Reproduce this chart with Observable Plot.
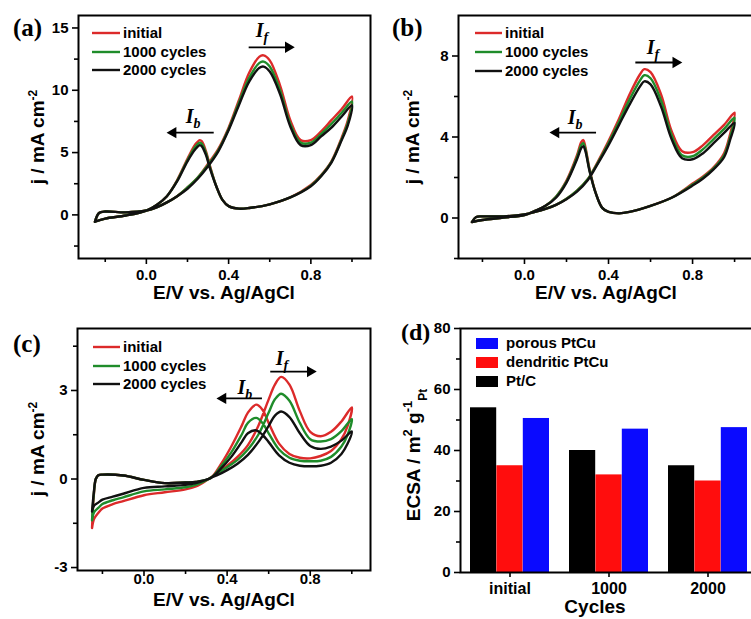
<!DOCTYPE html>
<html><head><meta charset="utf-8">
<script src="https://cdn.jsdelivr.net/npm/d3@7"></script>
<script src="https://cdn.jsdelivr.net/npm/@observablehq/plot@0.6"></script>
<style>
html,body{margin:0;padding:0;background:#fff;overflow:hidden;}
#fig{position:relative;width:751px;height:619px;overflow:hidden;background:#fff;}
#fig svg{position:absolute;overflow:visible;}
</style></head><body><div id="fig"></div>
<script>
// ---------------- DATA ----------------
const seriesNames = ["initial", "1000 cycles", "2000 cycles"];
const seriesColors = ["#dc2a2a", "#1f8c2a", "#111111"];

// Panel (a)
const aFwdE = [-0.25,-0.23,-0.2,-0.1,0,0.05,0.1,0.15,0.2,0.25,0.3,0.35,0.4,0.45,0.5,0.55,0.57,0.6,0.65,0.7,0.75,0.8,0.85,0.9,0.95,1.0];
const aFwdInitial = [-0.55,0.15,0.27,0.2,0.35,0.6,1.0,1.5,2.2,3.0,4.1,5.3,7.0,9.2,11.4,12.7,12.8,12.4,10.4,7.6,6.0,6.0,6.7,7.6,8.5,9.5];
const aFwd1000 = [-0.55,0.15,0.27,0.2,0.35,0.6,1.0,1.5,2.2,3.0,4.0,5.2,6.9,9.0,11.0,12.2,12.3,11.9,10.0,7.3,5.8,5.8,6.5,7.3,8.2,9.1];
const aFwd2000 = [-0.55,0.15,0.27,0.2,0.35,0.6,1.0,1.5,2.1,2.9,3.9,5.1,6.8,8.8,10.7,11.8,11.9,11.5,9.7,7.1,5.6,5.6,6.3,7.0,7.9,8.8];
const aBwdE = [0.98,0.95,0.9,0.85,0.8,0.7,0.6,0.5,0.45,0.4,0.37,0.34,0.31,0.29,0.27,0.26,0.24,0.2,0.15,0.1,0.05,0,-0.1,-0.2,-0.25];
const aBwdInitial = [7.6,6.2,4.3,3.2,2.4,1.4,0.85,0.55,0.5,0.7,1.2,2.3,3.9,5.1,5.9,6.0,5.7,4.5,2.8,1.5,0.8,0.35,-0.05,-0.3,-0.55];
const aBwd1000 = [7.4,6.1,4.25,3.15,2.35,1.4,0.85,0.55,0.5,0.7,1.2,2.3,3.8,4.95,5.7,5.8,5.5,4.4,2.75,1.5,0.8,0.35,-0.05,-0.3,-0.55];
const aBwd2000 = [7.2,6.0,4.2,3.1,2.3,1.4,0.85,0.55,0.5,0.7,1.2,2.3,3.7,4.8,5.5,5.6,5.3,4.3,2.7,1.5,0.8,0.35,-0.05,-0.3,-0.55];

// Panel (b)
const bFwdE = [-0.25,-0.23,-0.2,-0.1,0,0.05,0.1,0.15,0.2,0.25,0.3,0.35,0.4,0.45,0.5,0.55,0.57,0.6,0.65,0.7,0.75,0.8,0.85,0.9,0.95,1.0];
const bFwdInitial = [-0.2,0.05,0.08,0.08,0.18,0.3,0.45,0.65,0.95,1.35,1.9,2.8,3.8,4.9,6.1,7.1,7.35,7.2,6.1,4.3,3.3,3.25,3.6,4.1,4.6,5.2];
const bFwd1000 = [-0.2,0.05,0.08,0.08,0.18,0.3,0.45,0.65,0.95,1.35,1.9,2.75,3.7,4.75,5.85,6.8,7.05,6.9,5.8,4.1,3.1,3.05,3.4,3.9,4.4,4.95];
const bFwd2000 = [-0.2,0.05,0.08,0.08,0.18,0.3,0.45,0.65,0.93,1.3,1.85,2.7,3.6,4.6,5.6,6.5,6.75,6.6,5.5,3.9,2.95,2.9,3.2,3.7,4.2,4.7];
const bBwdE = [0.98,0.95,0.9,0.85,0.8,0.7,0.6,0.5,0.45,0.4,0.37,0.34,0.31,0.29,0.28,0.27,0.25,0.2,0.15,0.1,0.05,0,-0.1,-0.2,-0.25];
const bBwdInitial = [4.2,3.2,2.5,2.05,1.7,1.0,0.6,0.3,0.23,0.3,0.5,1.2,2.4,3.5,3.85,3.75,3.1,1.85,1.05,0.6,0.35,0.15,0.02,-0.1,-0.2];
const bBwd1000 = [4.05,3.1,2.45,2.0,1.65,1.0,0.6,0.3,0.23,0.3,0.5,1.2,2.35,3.4,3.7,3.6,3.0,1.8,1.05,0.6,0.35,0.15,0.02,-0.1,-0.2];
const bBwd2000 = [3.9,3.0,2.4,1.95,1.6,1.0,0.6,0.3,0.23,0.3,0.5,1.2,2.3,3.3,3.55,3.45,2.9,1.75,1.0,0.6,0.35,0.15,0.02,-0.1,-0.2];

// Panel (c)
const cFwdE = [-0.25,-0.24,-0.22,-0.2,-0.15,-0.1,0,0.1,0.2,0.25,0.3,0.35,0.4,0.45,0.5,0.55,0.6,0.63,0.66,0.7,0.75,0.8,0.85,0.9,0.95,1.0];
const cFwdInitial = [-1.66,-1.35,-1.15,-1.0,-0.85,-0.75,-0.55,-0.45,-0.35,-0.25,-0.05,0.2,0.45,0.75,1.15,1.8,2.7,3.2,3.46,3.2,2.3,1.6,1.45,1.6,1.95,2.43];
const cFwd1000 = [-1.4,-1.12,-0.98,-0.85,-0.72,-0.62,-0.42,-0.35,-0.28,-0.2,-0.04,0.18,0.4,0.65,1.0,1.5,2.25,2.7,2.89,2.65,1.9,1.35,1.27,1.35,1.62,2.03];
const cFwd2000 = [-1.1,-0.9,-0.8,-0.7,-0.6,-0.5,-0.3,-0.25,-0.2,-0.14,-0.02,0.12,0.3,0.52,0.82,1.25,1.8,2.15,2.29,2.1,1.55,1.12,1.02,1.1,1.3,1.61];
const cBwdE = [0.98,0.95,0.9,0.85,0.8,0.75,0.7,0.65,0.6,0.57,0.54,0.5,0.47,0.42,0.37,0.32,0.25,0.2,0.1,0,-0.1,-0.2,-0.22,-0.232,-0.242,-0.25];
const cBwdInitial = [1.8,1.35,0.95,0.78,0.7,0.72,0.85,1.2,1.9,2.35,2.52,2.25,1.8,1.1,0.5,0.03,-0.1,-0.12,-0.14,-0.03,0.12,0.15,0.13,0.0,-0.6,-1.66];
const cBwd1000 = [1.5,1.1,0.75,0.62,0.6,0.62,0.72,1.0,1.55,1.9,2.07,1.9,1.5,0.9,0.42,0.03,-0.1,-0.12,-0.14,-0.03,0.12,0.15,0.13,0.0,-0.55,-1.4];
const cBwd2000 = [1.2,0.85,0.55,0.45,0.43,0.45,0.55,0.8,1.25,1.5,1.65,1.55,1.25,0.75,0.35,0.03,-0.1,-0.12,-0.14,-0.03,0.12,0.15,0.13,0.0,-0.5,-1.1];

// Panel (d)
const cycles = ["initial", "1000", "2000"];
const barSeries = ["Pt/C", "dendritic PtCu", "porous PtCu"];
const barColors = ["#000000", "#ff0d0d", "#0a0aff"];
const ecsaPtC = [54, 40, 35];
const ecsaDendritic = [35, 32, 30];
const ecsaPorous = [50.5, 47, 47.5];

// ---------------- LAYOUT HELPERS ----------------
const fig = document.getElementById("fig");
const SANS = "'Liberation Sans', Arial, sans-serif";
const SERIF = "'Liberation Serif', 'Times New Roman', serif";
const baseStyle = {fontFamily: SANS, fontSize: "15px", fontWeight: "bold", color: "#000", background: "transparent", overflow: "visible"};

function place(node, left, top) {
  node.style.left = left + "px";
  node.style.top = top + "px";
  node.style.maxWidth = "none";
  fig.appendChild(node);
  return node;
}
function letter(svg, x, y, t, fs = 25) {
  svg.append("text").attr("x", x).attr("y", y).attr("text-anchor", "start").attr("font-family", SERIF)
    .attr("font-weight", "bold").attr("font-size", fs).attr("fill", "#000").text(t);
}
function rotTitle(svg, x, y, parts) {
  const t = svg.append("text").attr("transform", `translate(${x},${y}) rotate(-90)`)
    .attr("text-anchor", "middle").attr("font-family", SANS).attr("font-weight", "bold")
    .attr("font-size", 19).attr("fill", "#000");
  parts.forEach(p => {
    const s = t.append("tspan").text(p.t);
    if (p.dy) s.attr("dy", p.dy);
    if (p.fs) s.attr("font-size", p.fs);
  });
  return t;
}
function hTitle(svg, x, y, text, fs = 19) {
  svg.append("text").attr("x", x).attr("y", y).attr("text-anchor", "middle").attr("font-family", SANS)
    .attr("font-weight", "bold").attr("font-size", fs).attr("fill", "#000").text(text);
}

// ---------------- CV PANELS ----------------
function cvPanel(cfg) {
  const marks = [];
  cfg.fwd.forEach((fw, k) => {
    const pts = cfg.fwdE.map((e, i) => ({E: e, j: fw[i]}))
      .concat(cfg.bwdE.map((e, i) => ({E: e, j: cfg.bwd[k][i]})));
    marks.push(Plot.line(pts, {x: "E", y: "j", stroke: seriesColors[k], strokeWidth: 2.4, curve: "catmull-rom"}));
  });
  marks.push(
    Plot.ruleY(cfg.arrows, {x1: "x1", x2: "x2", y: "y", stroke: "#000", strokeWidth: 1.8}),
    Plot.dot(cfg.arrows, {x: d => d.dir === "right" ? d.x2 : d.x1, y: "y", symbol: "triangle", r: 4.2,
      fill: "#000", stroke: null, rotate: d => d.dir === "right" ? 90 : -90}),
    Plot.axisX({ticks: [0, 0.4, 0.8], tickFormat: d3.format(".1f"), tickSize: 6, tickPadding: cfg.xPad, strokeWidth: 1.6, label: null}),
    Plot.axisX({ticks: [-0.2, 0.2, 0.6, 1.0], tickFormat: () => "", tickSize: 4, strokeWidth: 1.6, label: null}),
    Plot.axisY({ticks: cfg.yMajor, tickFormat: d => String(d), tickSize: 6, tickPadding: 4, strokeWidth: 1.6, label: null}),
    Plot.axisY({ticks: cfg.yMinor, tickFormat: () => "", tickSize: 4, strokeWidth: 1.6, label: null}),
    Plot.frame({stroke: "#000", strokeWidth: 2})
  );
  const plot = Plot.plot({
    width: cfg.width, height: cfg.height,
    marginLeft: cfg.m[0], marginRight: cfg.m[1], marginTop: cfg.m[2], marginBottom: cfg.m[3],
    x: {domain: cfg.xDomain}, y: {domain: cfg.yDomain},
    style: baseStyle,
    marks
  });
  place(plot, cfg.left, cfg.top);
  const svg = d3.select(plot);
  const sx = plot.scale("x"), sy = plot.scale("y");
  // I_f / I_b labels
  cfg.labels.forEach(l => {
    const t = svg.append("text").attr("x", sx.apply(l.E)).attr("y", sy.apply(l.j)).attr("text-anchor", "middle")
      .attr("font-family", SERIF).attr("font-weight", "bold").attr("font-style", "italic").attr("font-size", 20).attr("fill", "#000");
    t.append("tspan").text("I");
    t.append("tspan").attr("dy", 5).attr("font-size", 14).text(l.sub);
  });
  // legend
  const L = cfg.legend;
  seriesNames.forEach((n, k) => {
    const y = L.ys[k] - cfg.top;
    svg.append("line").attr("x1", L.x0 - cfg.left).attr("x2", L.x1 - cfg.left).attr("y1", y).attr("y2", y)
      .attr("stroke", seriesColors[k]).attr("stroke-width", 2.4);
    svg.append("text").attr("x", L.tx - cfg.left).attr("y", y).attr("dy", "0.36em").attr("text-anchor", "start")
      .attr("font-family", SANS).attr("font-weight", "bold").attr("font-size", 15).attr("fill", "#000").text(n);
  });
  letter(svg, cfg.letter[0] - cfg.left, cfg.letter[1] - cfg.top, cfg.letter[2]);
  rotTitle(svg, cfg.ytitle[0] - cfg.left, cfg.ytitle[1] - cfg.top,
    [{t: "j / mA cm"}, {t: "-2", dy: -7, fs: 12}]).attr("dy", "0.35em");
  hTitle(svg, cfg.xtitle[0] - cfg.left, cfg.xtitle[1] - cfg.top, "E/V vs. Ag/AgCl");
  return plot;
}

cvPanel({
  left: 0, top: 0, width: 375, height: 305, m: [78, 5, 15, 47], xPad: 5,
  xDomain: [-0.33, 1.09], yDomain: [-3.5, 16], yMajor: [0, 5, 10, 15], yMinor: [-2.5, 2.5, 7.5, 12.5],
  fwdE: aFwdE, bwdE: aBwdE, fwd: [aFwdInitial, aFwd1000, aFwd2000], bwd: [aBwdInitial, aBwd1000, aBwd2000],
  arrows: [{x1: 0.5, x2: 0.69, y: 13.45, dir: "right"}, {x1: 0.13, x2: 0.33, y: 6.6, dir: "left"}],
  labels: [{E: 0.565, j: 14.2, sub: "f"}, {E: 0.23, j: 7.3, sub: "b"}],
  legend: {x0: 92, x1: 120, tx: 123, ys: [33, 52, 70]},
  letter: [13, 36, "(a)"], ytitle: [37, 137], xtitle: [224, 299]
});

cvPanel({
  left: 376, top: 0, width: 380, height: 305, m: [82, 3, 15, 47], xPad: 5,
  xDomain: [-0.314, 1.09], yDomain: [-2, 10], yMajor: [0, 4, 8], yMinor: [-2, 2, 6],
  fwdE: bFwdE, bwdE: bBwdE, fwd: [bFwdInitial, bFwd1000, bFwd2000], bwd: [bBwdInitial, bBwd1000, bBwd2000],
  arrows: [{x1: 0.53, x2: 0.72, y: 7.68, dir: "right"}, {x1: 0.15, x2: 0.343, y: 4.22, dir: "left"}],
  labels: [{E: 0.614, j: 8.05, sub: "f"}, {E: 0.243, j: 4.6, sub: "b"}],
  legend: {x0: 475, x1: 502, tx: 505, ys: [33, 52, 71]},
  letter: [392, 36, "(b)"], ytitle: [412, 137], xtitle: [606, 299]
});

cvPanel({
  left: 0, top: 305, width: 375, height: 314, m: [77, 5, 23, 49], xPad: -3,
  xDomain: [-0.32, 1.09], yDomain: [-3.1, 5.1], yMajor: [-3, 0, 3], yMinor: [-1.5, 1.5, 4.5],
  fwdE: cFwdE, bwdE: cBwdE, fwd: [cFwdInitial, cFwd1000, cFwd2000], bwd: [cBwdInitial, cBwd1000, cBwd2000],
  arrows: [{x1: 0.61, x2: 0.8, y: 3.64, dir: "right"}, {x1: 0.38, x2: 0.57, y: 2.73, dir: "left"}],
  labels: [{E: 0.666, j: 3.85, sub: "f"}, {E: 0.488, j: 2.85, sub: "b"}],
  legend: {x0: 93, x1: 120, tx: 123, ys: [347, 366, 384]},
  letter: [13, 352, "(c)"], ytitle: [37, 449], xtitle: [224, 606]
});

// ---------------- BAR PANEL (d) ----------------
(function () {
  const left = 376, top = 305;
  const bw = 26.4;
  const rows = [ecsaPtC, ecsaDendritic, ecsaPorous].map(vals => cycles.map((c, i) => ({cycle: c, v: vals[i]})));
  const insets = [[0, 2 * bw], [bw, bw], [2 * bw, 0]];
  const marks = rows.map((r, k) => Plot.barY(r, {x: "cycle", y: "v", fill: barColors[k],
    insetLeft: insets[k][0], insetRight: insets[k][1]}));
  marks.push(
    Plot.axisX({tickSize: 5, tickPadding: 5, strokeWidth: 1.6, fontSize: 16, label: null}),
    Plot.axisY({ticks: [0, 20, 40, 60, 80], tickSize: 6, tickPadding: 4, strokeWidth: 1.6, label: null}),
    Plot.axisY({ticks: [10, 30, 50, 70], tickFormat: () => "", tickSize: 4, strokeWidth: 1.6, label: null}),
    Plot.frame({stroke: "#000", strokeWidth: 2})
  );
  const plot = Plot.plot({
    width: 381, height: 314, marginLeft: 84, marginRight: 0, marginTop: 23, marginBottom: 47,
    x: {domain: cycles, paddingInner: 0.2, paddingOuter: 0.1},
    y: {domain: [0, 80]},
    style: baseStyle,
    marks
  });
  place(plot, left, top);
  const svg = d3.select(plot);
  // legend (top to bottom: porous, dendritic, Pt/C)
  const order = [2, 1, 0];
  const ys = [343, 362, 381];
  order.forEach((k, i) => {
    const y = ys[i] - top;
    svg.append("rect").attr("x", 476 - left).attr("y", y - 5).attr("width", 22).attr("height", 11).attr("fill", barColors[k]);
    svg.append("text").attr("x", 506 - left).attr("y", y).attr("dy", "0.36em").attr("text-anchor", "start")
      .attr("font-family", SANS).attr("font-weight", "bold").attr("font-size", 15).attr("fill", "#000").text(barSeries[k]);
  });
  letter(svg, 401 - left, 340 - top, "(d)", 24);
  rotTitle(svg, 413 - left, 455 - top, [
    {t: "ECSA / m"}, {t: "2", dy: -8, fs: 13}, {t: " g", dy: 8}, {t: "-1", dy: -8, fs: 13}, {t: "Pt", dy: 15, fs: 12}
  ]).attr("dy", "0.35em");
  hTitle(svg, 595 - left, 613 - top, "Cycles");
})();
</script>
</body></html>
